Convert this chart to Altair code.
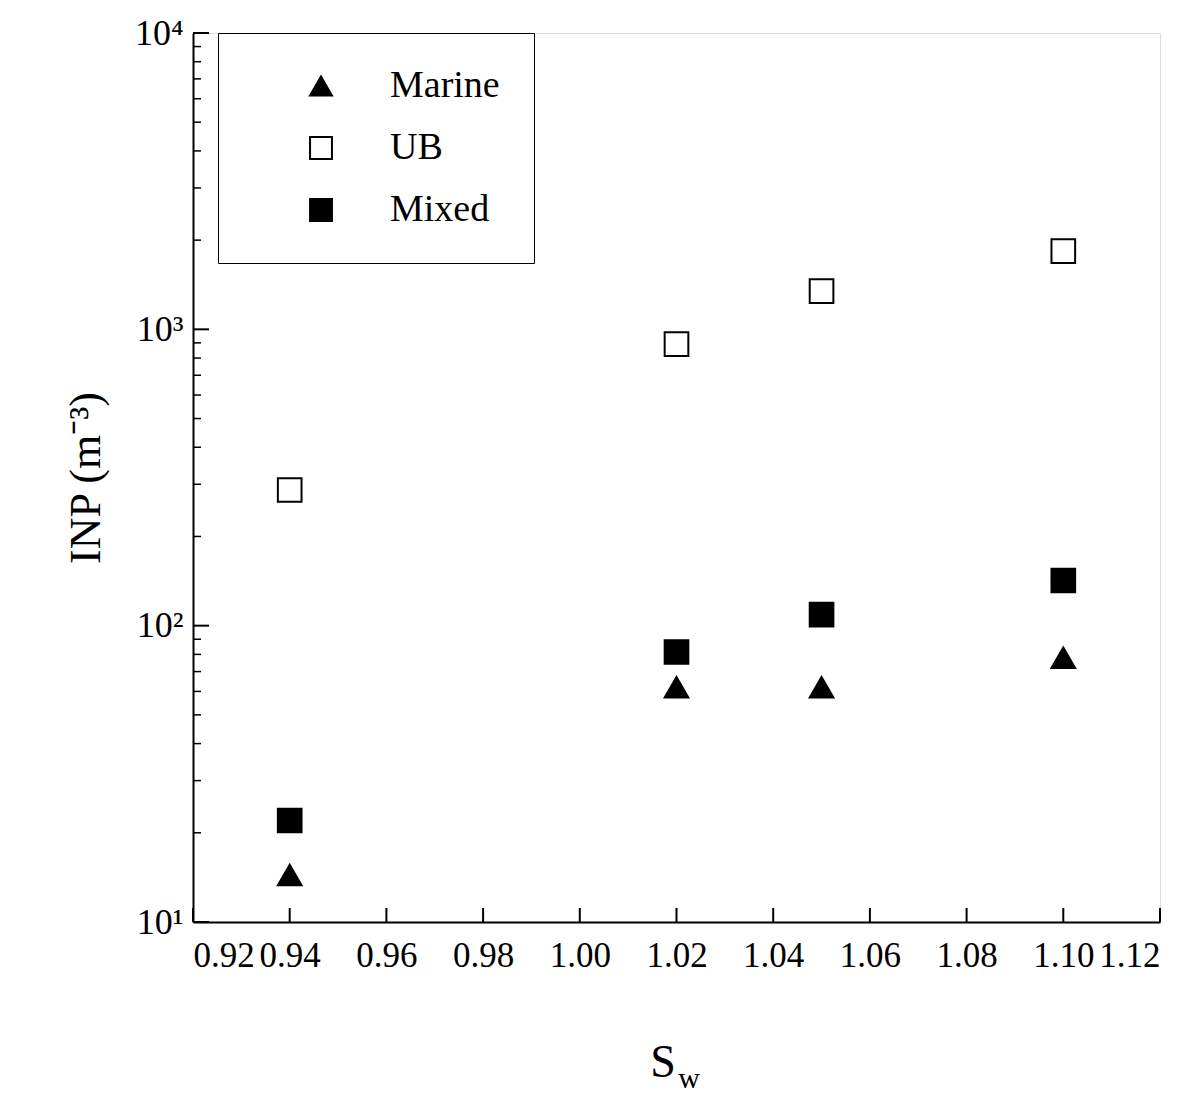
import altair as alt
import pandas as pd

sw = [0.94, 1.02, 1.05, 1.10]
marine = [14.4, 62, 62, 78]
ub = [287, 891, 1346, 1837]
mixed = [22, 81.5, 109, 142]

groups = ["Marine", "UB", "Mixed"]
rows = []
for g, vals in zip(groups, [marine, ub, mixed]):
    for s, v in zip(sw, vals):
        rows.append({"Sw": s, "INP": v, "Type": g})
df = pd.DataFrame(rows)

x_ticks = [0.92 + 0.02 * i for i in range(11)]
y_major = [10, 100, 1000, 10000]
y_minor = [m * d for d in [10, 100, 1000] for m in range(2, 10)]

W, H = 967, 889
FONT = "Liberation Serif"
xs = alt.Scale(domain=[0.92, 1.12])
ys = alt.Scale(type="log", domain=[10, 10000])

leg = alt.Legend(title=None, orient="none", legendX=25, legendY=0,
                 strokeColor="black", fillColor="white", padding=34,
                 labelFont=FONT, labelFontSize=38, symbolSize=480,
                 symbolStrokeWidth=2, rowPadding=24, labelOffset=50,
                 symbolOffset=50, columnPadding=0, labelLimit=300)

points = alt.Chart(df).mark_point(stroke="black", strokeWidth=2, size=560, opacity=1).encode(
    x=alt.X("Sw:Q", scale=xs,
            axis=alt.Axis(values=x_ticks, format=".2f", ticks=False, grid=False,
                          labelFont=FONT, labelFontSize=35, labelColor="black",
                          labelPadding=16, labelOverlap=False, title=None,
                          domainColor="black", domainWidth=2)),
    y=alt.Y("INP:Q", scale=ys,
            axis=alt.Axis(values=y_major, ticks=False, grid=False, labelOverlap=False,
                          labelExpr="datum.value < 50 ? '10¹' : datum.value < 500 ? '10²' : datum.value < 5000 ? '10³' : '10⁴'",
                          labelFont=FONT, labelFontSize=36, labelColor="black", labelPadding=10,
                          title="INP (m⁻³)", titleFont=FONT, titleFontSize=44,
                          titleFontWeight="normal", titleColor="black", titlePadding=26,
                          domainColor="black", domainWidth=2)),
    shape=alt.Shape("Type:N", sort=groups,
                    scale=alt.Scale(domain=groups, range=["triangle-up", "square", "square"]),
                    legend=leg),
    fill=alt.Fill("Type:N", sort=groups,
                  scale=alt.Scale(domain=groups, range=["black", "white", "black"]),
                  legend=leg),
)

xt = alt.Chart(pd.DataFrame({"v": x_ticks})).mark_rule(color="black", strokeWidth=2).encode(
    x=alt.X("v:Q", scale=xs), y=alt.value(H), y2=alt.value(H - 14))
ymaj = alt.Chart(pd.DataFrame({"v": y_major})).mark_rule(color="black", strokeWidth=2).encode(
    y=alt.Y("v:Q", scale=ys), x=alt.value(0), x2=alt.value(16))
ymin = alt.Chart(pd.DataFrame({"v": y_minor})).mark_rule(color="black", strokeWidth=1.5).encode(
    y=alt.Y("v:Q", scale=ys), x=alt.value(0), x2=alt.value(8))

s_lbl = alt.Chart(pd.DataFrame({"t": ["S"]})).mark_text(
    font=FONT, fontSize=46, color="black", baseline="middle").encode(
    text="t:N", x=alt.value(470), y=alt.value(1030))
w_lbl = alt.Chart(pd.DataFrame({"t": ["w"]})).mark_text(
    font=FONT, fontSize=30, color="black", baseline="middle").encode(
    text="t:N", x=alt.value(496), y=alt.value(1046))

chart = alt.layer(ymin, ymaj, xt, points, s_lbl, w_lbl).properties(
    width=W, height=H, autosize=alt.AutoSizeParams(type="none"),
    padding={"left": 185, "top": 25, "right": 30, "bottom": 170},
).configure_view(stroke="black", strokeWidth=2).configure(background="white")

chart.save("out.html", embed_options={"renderer": "svg", "actions": False})
